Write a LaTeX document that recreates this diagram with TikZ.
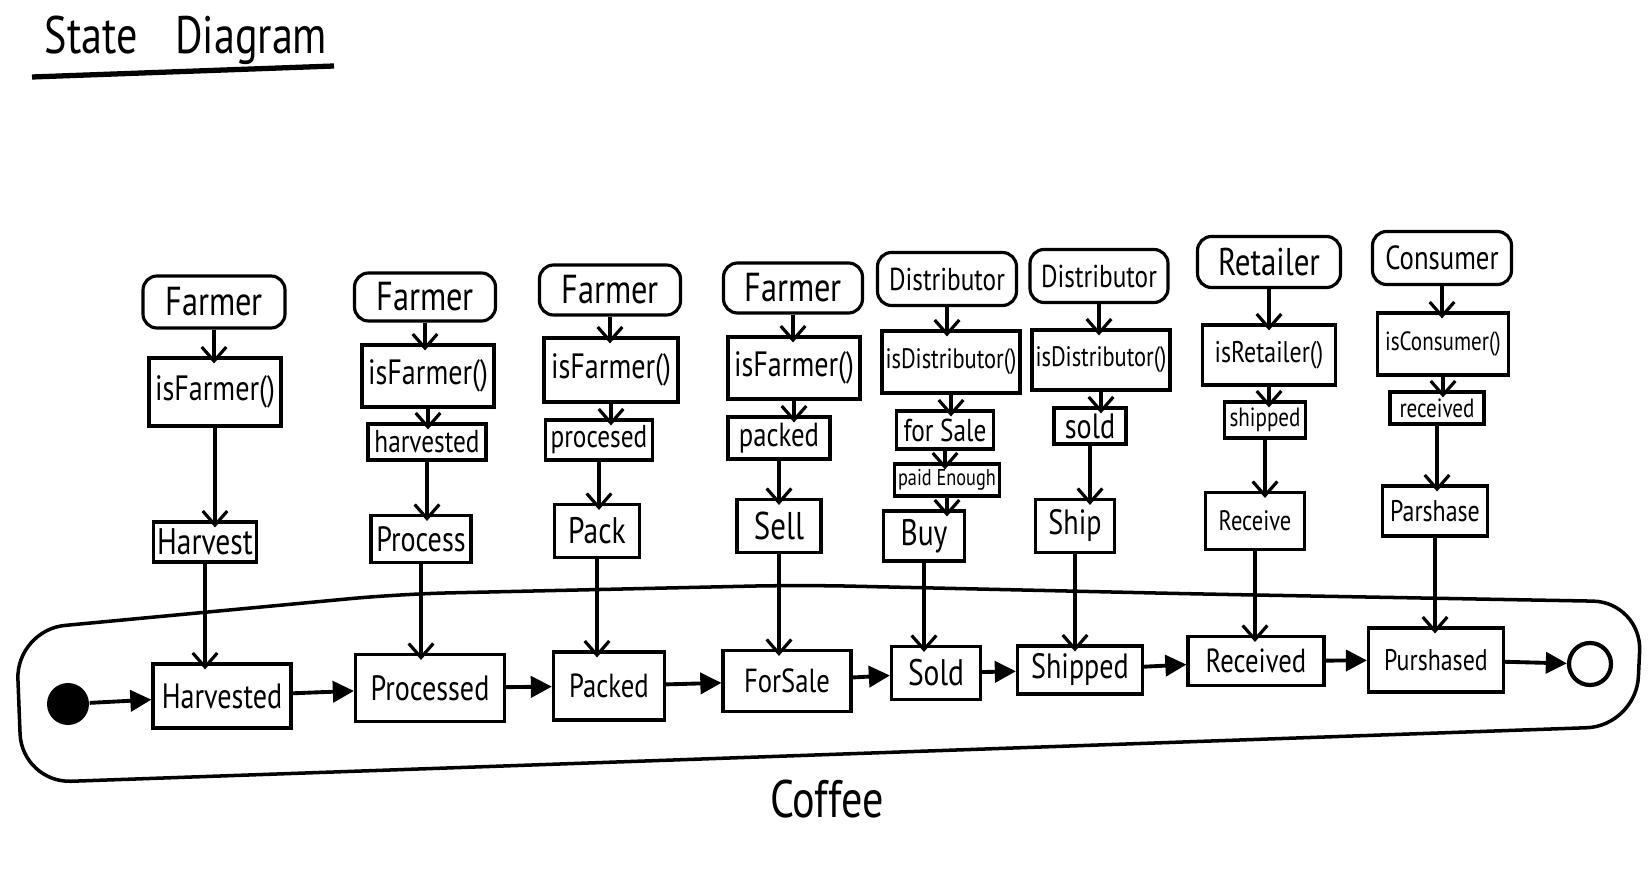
\documentclass[tikz,border=0pt]{standalone}
\usepackage{fontspec}
\setmainfont{PT Sans}[FakeStretch=0.8]
\usepackage{tikz}
\usetikzlibrary{shapes,arrows.meta}
\tikzset{
  rolebox/.style={draw, line width=0.9pt, rounded corners=4pt, inner sep=1pt},
  sdbox/.style={draw, line width=0.9pt, inner sep=1pt},
  vstep/.style={line width=0.9pt, shorten >=-2pt, -{Straight Barb[length=4pt,width=7pt]}},
  hstep/.style={line width=1.1pt, -{Triangle[length=6pt,width=6pt]}}
}
\newcommand{\fsz}[1]{\fontsize{#1}{#1}\selectfont}
\newcommand{\sdnode}[6] {\node at (#1) (#2) [#3, minimum width=#4cm, minimum height=#5cm] {#6};}
\newcommand{\sddown}[2] {\draw [vstep] (#1.south) -- (#1.south |- #2.north);}
\newcommand{\sdnext}[2] {\draw [hstep] (#1) -- (#2);}
\begin{document}
\begin{tikzpicture}
\useasboundingbox (0,0) rectangle (16.48,-8.84);

\node at (1.86,-0.40) (title) {\fsz{15}State\enspace\ Diagram};
\draw [line width=1.5pt] (0.32,-0.77) -- (3.34,-0.66);

% the coffee object
\draw [line width=1pt, rounded corners=14pt] (8.0,-5.85) -- (12.0,-5.94) -- (16.42,-6.02) -- (16.36,-7.26)
  -- (0.22,-7.83) -- (0.16,-6.30) -- (4.0,-5.94) -- cycle;
\node at (8.27,-7.99) (coffee) {\fsz{15}Coffee};

% farmer: harvest
\sdnode {2.14,-3.02} {f1} {rolebox} {1.42} {0.52} {\fsz{11.5}Farmer};
\sdnode {2.15,-3.92} {c1} {sdbox} {1.32} {0.68} {\fsz{10}isFarmer()};
\sdnode {2.05,-5.42} {a1} {sdbox} {1.03} {0.40} {\fsz{10.5}Harvest};
\sdnode {2.22,-6.96} {s1} {sdbox} {1.38} {0.64} {\fsz{10}Harvested};
\sddown {f1}{c1};
\sddown {c1}{a1};
\sddown {a1}{s1};

% farmer: process
\sdnode {4.25,-2.97} {f2} {rolebox} {1.41} {0.48} {\fsz{11.5}Farmer};
\sdnode {4.28,-3.76} {c2} {sdbox} {1.32} {0.62} {\fsz{10}isFarmer()};
\sdnode {4.27,-4.42} {g2} {sdbox} {1.18} {0.36} {\fsz{9}harvested};
\sdnode {4.21,-5.39} {a2} {sdbox} {1.00} {0.47} {\fsz{10}Process};
\sdnode {4.30,-6.88} {s2} {sdbox} {1.49} {0.67} {\fsz{10}Processed};
\sddown {f2}{c2};
\sddown {c2}{g2};
\sddown {g2}{a2};
\sddown {a2}{s2};

% farmer: pack
\sdnode {6.10,-2.90} {f3} {rolebox} {1.41} {0.50} {\fsz{11.5}Farmer};
\sdnode {6.11,-3.70} {c3} {sdbox} {1.34} {0.64} {\fsz{10}isFarmer()};
\sdnode {5.99,-4.40} {g3} {sdbox} {1.07} {0.40} {\fsz{9}procesed};
\sdnode {5.97,-5.31} {a3} {sdbox} {0.85} {0.53} {\fsz{10.5}Pack};
\sdnode {6.09,-6.86} {s3} {sdbox} {1.11} {0.68} {\fsz{9.5}Packed};
\sddown {f3}{c3};
\sddown {c3}{g3};
\sddown {g3}{a3};
\sddown {a3}{s3};

% farmer: sell
\sdnode {7.93,-2.88} {f4} {rolebox} {1.39} {0.50} {\fsz{11.5}Farmer};
\sdnode {7.94,-3.68} {c4} {sdbox} {1.32} {0.62} {\fsz{10}isFarmer()};
\sdnode {7.79,-4.38} {g4} {sdbox} {1.02} {0.42} {\fsz{9.5}packed};
\sdnode {7.79,-5.26} {a4} {sdbox} {0.84} {0.53} {\fsz{11}Sell};
\sdnode {7.87,-6.81} {s4} {sdbox} {1.28} {0.61} {\fsz{9.5}ForSale};
\sddown {f4}{c4};
\sddown {c4}{g4};
\sddown {g4}{a4};
\sddown {a4}{s4};

% distributor: buy
\sdnode {9.47,-2.79} {f5} {rolebox} {1.39} {0.53} {\fsz{9}Distributor};
\sdnode {9.51,-3.62} {c5} {sdbox} {1.31} {0.62} {\fsz{8}isDistributor()};
\sdnode {9.45,-4.30} {g5} {sdbox} {0.97} {0.38} {\fsz{9}for Sale};
\sdnode {9.47,-4.80} {p5} {sdbox} {1.02} {0.32} {\fsz{6.5}paid Enough};
\sdnode {9.24,-5.36} {a5} {sdbox} {0.81} {0.50} {\fsz{10.5}Buy};
\sdnode {9.36,-6.73} {s5} {sdbox} {0.89} {0.53} {\fsz{10.5}Sold};
\sddown {f5}{c5};
\sddown {c5}{g5};
\sddown {g5}{p5};
\sddown {p5}{a5};
\sddown {a5}{s5};

% distributor: ship
\sdnode {10.99,-2.76} {f6} {rolebox} {1.38} {0.53} {\fsz{9}Distributor};
\sdnode {11.01,-3.60} {c6} {sdbox} {1.32} {0.60} {\fsz{8}isDistributor()};
\sdnode {10.90,-4.26} {g6} {sdbox} {0.72} {0.36} {\fsz{10}sold};
\sdnode {10.75,-5.26} {a6} {sdbox} {0.79} {0.53} {\fsz{10}Ship};
\sdnode {10.80,-6.70} {s6} {sdbox} {1.25} {0.48} {\fsz{10}Shipped};
\sddown {f6}{c6};
\sddown {c6}{g6};
\sddown {g6}{a6};
\sddown {a6}{s6};

% retailer: receive
\sdnode {12.69,-2.62} {f7} {rolebox} {1.43} {0.51} {\fsz{11}Retailer};
\sdnode {12.69,-3.55} {c7} {sdbox} {1.33} {0.60} {\fsz{8.5}isRetailer()};
\sdnode {12.65,-4.20} {g7} {sdbox} {0.81} {0.36} {\fsz{7.5}shipped};
\sdnode {12.55,-5.21} {a7} {sdbox} {0.99} {0.57} {\fsz{8}Receive};
\sdnode {12.56,-6.61} {s7} {sdbox} {1.36} {0.49} {\fsz{9.5}Received};
\sddown {f7}{c7};
\sddown {c7}{g7};
\sddown {g7}{a7};
\sddown {a7}{s7};

% consumer: parshase
\sdnode {14.42,-2.58} {f8} {rolebox} {1.39} {0.53} {\fsz{9.5}Consumer};
\sdnode {14.43,-3.44} {c8} {sdbox} {1.31} {0.62} {\fsz{7.5}isConsumer()};
\sdnode {14.37,-4.08} {g8} {sdbox} {0.94} {0.32} {\fsz{7.5}received};
\sdnode {14.35,-5.11} {a8} {sdbox} {1.05} {0.50} {\fsz{8.5}Parshase};
\sdnode {14.36,-6.60} {s8} {sdbox} {1.35} {0.64} {\fsz{8.5}Purshased};
\sddown {f8}{c8};
\sddown {c8}{g8};
\sddown {g8}{a8};
\sddown {a8}{s8};

% states
\node at (0.68,-7.04) (init) [circle, fill=black, minimum size=0.42cm] {};
\node at (15.90,-6.64) (final) [circle, draw, line width=1.2pt, minimum size=0.42cm] {};
\sdnext {init}{s1};
\sdnext {s1}{s2};
\sdnext {s2}{s3};
\sdnext {s3}{s4};
\sdnext {s4}{s5};
\sdnext {s5}{s6};
\sdnext {s6}{s7};
\sdnext {s7}{s8};
\sdnext {s8}{final};

\end{tikzpicture}
\end{document}
